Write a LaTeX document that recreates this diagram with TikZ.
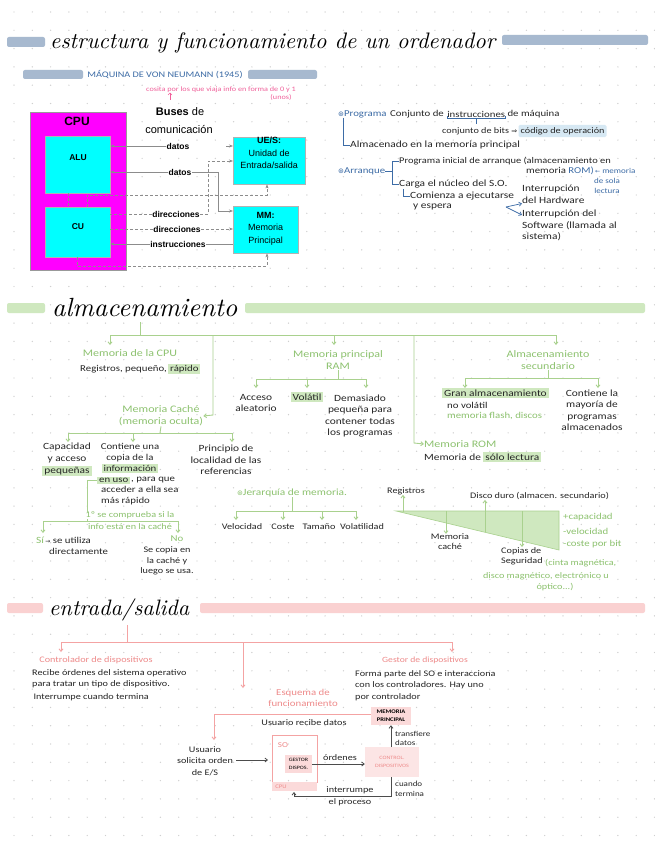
\documentclass[tikz,border=0pt]{standalone}
\usepackage{fontspec}
\newfontfamily\hwf[FakeStretch=1.2]{Carlito}
\newfontfamily\arf{Liberation Sans}
\newfontfamily\djf{DejaVu Sans}
\usetikzlibrary{arrows.meta}
\definecolor{dotc}{HTML}{CFCFCF}
\definecolor{bluebar}{HTML}{A7B9CF}
\definecolor{bluet}{HTML}{3D6CA6}
\definecolor{bluehl}{HTML}{D6E8F3}
\definecolor{gline}{HTML}{A9D18E}
\definecolor{gtext}{HTML}{8DC26F}
\definecolor{ghl}{HTML}{CFE8BF}
\definecolor{gbar}{HTML}{CFE8BF}
\definecolor{pline}{HTML}{F4A3A3}
\definecolor{ptext}{HTML}{EE8A8A}
\definecolor{pbar}{HTML}{FAD1D1}
\definecolor{phl}{HTML}{FBDADA}
\definecolor{pinkann}{HTML}{F0609A}
\definecolor{magb}{HTML}{FF00FF}
\definecolor{cyanb}{HTML}{00FFFF}
\begin{document}
\begin{tikzpicture}[x=1pt,y=-1pt,
  t/.style={font=\hwf\fontsize{9.5}{11.5}\selectfont, inner sep=0pt, align=center, text=black!85},
  ts/.style={t, font=\hwf\fontsize{8.5}{11.5}\selectfont},
  bt/.style={t, text=bluet},
  g/.style={t, text=gtext},
  gb/.style={t, text=gtext, font=\hwf\fontsize{10}{12}\selectfont},
  pt/.style={t, text=ptext, font=\hwf\fontsize{8.5}{11}\selectfont},
  hlg/.style={t, fill=ghl, inner xsep=2pt, inner ysep=1.2pt},
  ar/.style={font=\arf\bfseries\fontsize{8.5}{14}\selectfont, inner sep=0pt, align=center},
  arn/.style={font=\arf\fontsize{9}{13.5}\selectfont, inner sep=0pt, align=center},
  cl/.style={draw=black!45, line width=0.6pt},
  cd/.style={cl, densely dashed},
  ca/.style={-{Stealth[length=4pt,width=3pt]}},
  gl/.style={draw=gline, line width=0.9pt},
  ga/.style={gl, -{Straight Barb[length=2.5pt,width=4pt]}},
  pl/.style={draw=pline, line width=0.9pt},
  pa/.style={pl, -{Straight Barb[length=2.5pt,width=4pt]}},
  bl/.style={draw=bluet, line width=0.7pt},
  ba/.style={bl, -{Straight Barb[length=2.5pt,width=4pt]}},
  dl/.style={draw=black!70, line width=0.8pt, -{Straight Barb[length=2.5pt,width=4pt]}}
]
\useasboundingbox (0,0) rectangle (655,848);
\fill[white] (0,0) rectangle (655,848);
\foreach \i in {0,...,35}{\foreach \j in {0,...,45}{\fill[dotc] (14+18.3*\i,12+18.3*\j) circle (0.7pt);}}

% ================= TITLE =================
\fill[bluebar, rounded corners=2pt] (7,37) rectangle (45,47);
\fill[bluebar, rounded corners=2pt] (502,35) rectangle (648,45);
\node[anchor=base west, inner sep=0pt] (title) at (50,49) {\resizebox{445pt}{!}{\itshape estructura y funcionamiento de un ordenador}};
\fill[bluebar, rounded corners=2pt] (23,70) rectangle (83,79);
\fill[bluebar, rounded corners=2pt] (248,70) rectangle (317,79);
\node[bt, font=\hwf\fontsize{8.5}{10}\selectfont] (vonn) at (165,75) {MÁQUINA DE VON NEUMANN (1945)};

% ================= CPU DIAGRAM =================
\node[draw=black!40, fill=magb, minimum width=96, minimum height=158, anchor=north west, inner sep=0pt] (cpu) at (30,112) {};
\node[font=\arf\bfseries\fontsize{12}{12}\selectfont, inner sep=0pt] (cpul) at (77,121) {CPU};
\node[draw=black!30, fill=cyanb, minimum width=65, minimum height=57, anchor=north west, inner sep=0pt] (alu) at (45,136) {};
\node[ar] (alul) at (78,158) {ALU};
\node[draw=black!30, fill=cyanb, minimum width=65, minimum height=50, anchor=north west, inner sep=0pt] (cu) at (45,207) {};
\node[ar] (cul) at (78,227) {CU};
\draw[cd] (alu.south -| 68,0) -- (cu.north -| 68,0);

\node[draw=black!30, fill=cyanb, minimum width=72, minimum height=47, anchor=north west, inner sep=0pt] (ues) at (233,137) {};
\node[arn, anchor=north] (uesl) at (ues.north) {\textbf{UE/S:}\\[-1pt]Unidad de\\[-1pt]Entrada/salida};
\node[draw=black!30, fill=cyanb, minimum width=65, minimum height=47, anchor=north west, inner sep=0pt] (mm) at (233,206) {};
\node[arn, anchor=north] (mml) at ([yshift=-6pt]mm.north) {\textbf{MM:}\\[-1pt]Memoria\\[-1pt]Principal};

\node[arn, font=\arf\fontsize{11}{11}\selectfont] (buses) at (180,112) {\textbf{Buses} de};
\node[arn, font=\arf\fontsize{11}{11}\selectfont] (comu) at (179,130) {comunicación};
\node[font=\hwf\fontsize{6.8}{7}\selectfont, text=pinkann, inner sep=0pt] (cosita) at (221,90) {cosita por los que viaja info en forma de 0 y 1};
\node[font=\hwf\fontsize{6.8}{7}\selectfont, text=pinkann, inner sep=0pt] (unos) at (281,97) {(unos)};
\draw[draw=pinkann, line width=0.4pt] (170,93) -- (170,100);
\draw[draw=pinkann, line width=0.4pt] (168,95) -- (170,93) -- (172,95);

\node[ar] (datos1) at (178,146) {datos};
\node[ar] (datos2) at (180,172) {datos};
\node[ar] (dir1) at (176,214) {direcciones};
\node[ar] (dir2) at (177,229) {direcciones};
\node[ar] (instr) at (178,244) {instrucciones};

\draw[cl, ca] (datos1.west) -- (datos1.west -| alu.east);
\draw[cl, ca] (226,146) -- (226,146 -| ues.west);
\draw[cl, ca] (datos2.west) -- (datos2.west -| alu.east);
\draw[cl, ca] (datos2.east) -- (218,172) -- (218,211) -- (218,211 -| mm.west);
\draw[cd] (dir1.west) -- (dir1.west -| cu.east);
\draw[cd, ca] (dir1.east) -- (208,214) -- (208,161) -- (208,161 -| ues.west);
\draw[cd] (dir2.west) -- (dir2.west -| cu.east);
\draw[cd, ca] (dir2.east) -- (dir2.east -| mm.west);
\draw[cl] (instr.east) -- (instr.east -| mm.west);
\draw[cl, ca] (instr.west) -- (instr.west -| cu.east);
\draw[cd, ca] (cu.north -| 87,0) -- (87,195) -- (267,195) -- (ues.south -| 267,0);
\draw[cd, ca] (cu.south -| 77,0) -- (77,266) -- (267,266) -- (mm.south -| 267,0);

% ================= TOP RIGHT =================
\node[bt, anchor=west, font=\hwf\fontsize{9}{11}\selectfont] (prog) at (338,114) {{\djf\fontsize{7}{8}\selectfont ⊛}Programa};
\node[t, anchor=west, font=\hwf\fontsize{9}{11}\selectfont] (conjA) at (390,114) {Conjunto de};
\node[t, anchor=west, font=\hwf\fontsize{9}{11}\selectfont] (instrW) at ([xshift=3pt]conjA.east) {instrucciones};
\node[t, anchor=west, font=\hwf\fontsize{9}{11}\selectfont] (conjB) at ([xshift=2pt]instrW.east) {de máquina};
\draw[bl] (instrW.south west) ++(0,-1) -- ++(0,2.5) -| ([yshift=1.5pt]instrW.south east);
\draw[bl] (instrW.south) ++(0,1.5) -- ++(0,5);
\node[t, anchor=west, font=\hwf\fontsize{8.5}{11}\selectfont] (bits) at (442,131) {conjunto de bits {\djf\fontsize{7}{8}\selectfont ⇒}};
\node[t, anchor=west, fill=bluehl, inner xsep=2pt, inner ysep=2.5pt, rounded corners=1.5pt, font=\hwf\fontsize{8.5}{11}\selectfont] (cod) at ([xshift=1pt]bits.east) {código de operación};
\node[t, anchor=west] (alm) at (350,145) {Almacenado en la memoria principal};
\draw[bl] (prog.south west) ++(5,0) |- (alm.west);

\node[bt, anchor=west, font=\hwf\fontsize{9}{11}\selectfont] (arr) at (338,171) {{\djf\fontsize{7}{8}\selectfont ⊛}Arranque};
\node[t, anchor=west, font=\hwf\fontsize{8.7}{11}\selectfont] (pia) at (399,161) {Programa inicial de arranque (almacenamiento en};
\node[t, anchor=west, font=\hwf\fontsize{9}{11}\selectfont] (pib) at (526,171) {memoria \textcolor{bluet}{ROM)}};
\node[bt, anchor=west, font=\hwf\fontsize{7.5}{9}\selectfont] (memo) at ([xshift=1pt]pib.east) {{\djf\fontsize{6}{7}\selectfont ←} memoria};
\node[bt, font=\hwf\fontsize{7.5}{9}\selectfont] (sola) at (607,181) {de sola};
\node[bt, font=\hwf\fontsize{7.5}{9}\selectfont] (lect) at (607,191) {lectura};
\node[t, anchor=west] (carga) at (399,184) {Carga el núcleo del S.O.};
\draw[bl] (arr.east) -- (392,171);
\draw[bl] (pia.west) -- (392,161) -- (392,184) -- (carga.west);
\node[t, anchor=west] (com) at (410,196) {Comienza a ejecutarse};
\node[t, anchor=west] (esp) at (413,207) {y espera};
\draw[bl] (403,189) |- (com.west);
\node[t, anchor=north west, align=left] (int1) at (522,185) {Interrupción\\del Hardware};
\node[t, anchor=north west, align=left] (int2) at (522,210) {Interrupción del\\Software (llamada al\\sistema)};
\coordinate (brk) at (506,207);
\draw[ba] (brk) -- (int1.south west);
\draw[ba] (brk) -- ([yshift=-5pt]int2.north west);

% ================= ALMACENAMIENTO =================
\fill[gbar, rounded corners=2pt] (7,303) rectangle (45,313);
\fill[gbar, rounded corners=2pt] (245,303) rectangle (645,313);
\node[anchor=base west, inner sep=0pt] (almt) at (52,316) {\resizebox{185pt}{!}{\itshape almacenamiento}};

\coordinate (gtop) at (140,322);
\draw[gl] (gtop) -- (140,335);
\draw[gl] (110,335) -- (556,335);
\node[gb] (cpum) at (130,353) {Memoria de la CPU};
\draw[ga] (110,335) -- (110,345);
\node[t, anchor=west, font=\hwf\fontsize{9}{11}\selectfont] (regs) at (80,369) {Registros, pequeño,};
\node[hlg, anchor=west, font=\hwf\fontsize{9}{11}\selectfont] (rap) at ([xshift=1pt]regs.east) {rápido};

\node[gb] (cache) at (161,416) {Memoria Caché\\(memoria oculta)};
\draw[ga] (213,335) -- (213,415) -- (cache.east);
\draw[gl] (cache.south) -- (160,433);
\draw[gl] (68,433) -- (232,433);
\draw[ga] (68,433) -- (68,442);
\draw[ga] (133,433) -- (133,442);
\draw[ga] (232,433) -- (232,442);
\node[t] (capa) at (67,453) {Capacidad\\y acceso};
\node[hlg] (peq) at (67,471) {pequeñas};
\node[t, font=\hwf\fontsize{9}{11}\selectfont] (conti) at (130,453) {Contiene una\\copia de la};
\node[hlg, font=\hwf\fontsize{9}{11}\selectfont] (info) at (130,468.5) {información};
\node[hlg, anchor=west, font=\hwf\fontsize{9}{11}\selectfont] (enuso) at (97,480.5) {en uso};
\node[t, anchor=west, font=\hwf\fontsize{9}{11}\selectfont] (para) at ([xshift=0.5pt]enuso.east) {, para que};
\node[t, anchor=north west, align=left, font=\hwf\fontsize{9}{11}\selectfont] (acced) at (101,486) {acceder a ella sea\\más rápido};
\node[t] (princ) at (226,460) {Principio de\\localidad de las\\referencias};
\draw[gl] (enuso.west) -- (87,480.5) -- (87,521);
\draw[gl] (43,521) -- (178,521);
\draw[ga] (43,521) -- (43,533);
\draw[ga] (178,521) -- (178,533);
\node[g, anchor=south, font=\hwf\fontsize{8.5}{10}\selectfont, fill=white, inner xsep=1pt] (comp1) at (130,519.5) {1º se comprueba si la};
\node[g, anchor=north, font=\hwf\fontsize{8.5}{10}\selectfont] (comp2) at (130,523) {info está en la caché};
\node[g, anchor=west] (si) at (36,540) {Sí};
\node[t, anchor=west, font=\hwf\fontsize{9}{11}\selectfont] (util) at ([xshift=1pt]si.east) {{\djf\fontsize{6}{7}\selectfont →} se utiliza};
\node[t, anchor=west, font=\hwf\fontsize{9}{11}\selectfont] (dire) at (49,551) {directamente};
\node[g, font=\hwf\fontsize{9}{11}\selectfont] (no) at (177,538.5) {No};
\node[t, font=\hwf\fontsize{8.5}{10.8}\selectfont] (copia) at (167,561) {Se copia en\\la caché y\\luego se usa.};

\node[gb] (ram) at (338,360) {Memoria principal\\RAM};
\draw[ga] (334,335) -- (334,345);
\draw[gl] (ram.south) -- (338,379);
\draw[gl] (256,379) -- (366,379);
\draw[ga] (256,379) -- (256,388);
\draw[ga] (307,379) -- (307,388);
\draw[ga] (366,379) -- (366,388);
\node[t] (acc) at (256,403) {Acceso\\aleatorio};
\node[hlg] (vol) at (307,397) {Volátil};
\node[t] (dem) at (360,416) {Demasiado\\pequeña para\\contener todas\\los programas};

\node[gb, anchor=west] (rom) at (424,444) {Memoria ROM};
\draw[ga] (414,335) -- (414,443) -- (rom.west);
\node[t, anchor=west] (romt) at (424,457) {Memoria de};
\node[hlg, anchor=west] (solo) at ([xshift=2pt]romt.east) {sólo lectura};

\node[gb] (sec) at (548,360) {Almacenamiento\\secundario};
\draw[ga] (556,335) -- (556,345);
\draw[gl] (sec.south) -- (548,378);
\draw[gl] (465,378) -- (598,378);
\draw[ga] (465,378) -- (465,388);
\draw[ga] (598,378) -- (598,388);
\node[hlg, anchor=west, font=\hwf\fontsize{9.5}{11}\selectfont] (gran) at (442,393) {Gran almacenamiento};
\node[t, anchor=west, font=\hwf\fontsize{9}{11}\selectfont] (novol) at (447,405) {no volátil};
\node[g, anchor=west, font=\hwf\fontsize{9}{11}\selectfont] (flash) at (447,416) {memoria flash, discos};
\node[t] (contla) at (592,410) {Contiene la\\mayoría de\\programas\\almacenados};

\node[gb, font=\hwf\fontsize{9.5}{11}\selectfont] (jer) at (292,493) {{\djf\fontsize{7}{8}\selectfont ⊛}Jerarquía de memoria.};
\draw[gl] (jer.south) -- (292,511);
\draw[gl] (236,511) -- (356,511);
\draw[ga] (236,511) -- (236,520);
\draw[ga] (283,511) -- (283,520);
\draw[ga] (322,511) -- (322,520);
\draw[ga] (356,511) -- (356,520);
\node[t, font=\hwf\fontsize{8.5}{10}\selectfont] (velo) at (242,527) {Velocidad};
\node[t, font=\hwf\fontsize{8.5}{10}\selectfont] (coste) at (283,527) {Coste};
\node[t, font=\hwf\fontsize{8.5}{10}\selectfont] (tam) at (319,527) {Tamaño};
\node[t, font=\hwf\fontsize{8.5}{10}\selectfont] (volat) at (362,527) {Volatilidad};

\fill[ghl] (396,511) -- (559,511) -- (559,550) -- cycle;
\draw[draw=gline, line width=0.6pt] (396,511) -- (559,511) -- (559,550) -- cycle;
\node[t, font=\hwf\fontsize{8.5}{10}\selectfont] (regt) at (406,491) {Registros};
\node[t, font=\hwf\fontsize{8.5}{10}\selectfont] (mcach) at (450,542) {Memoria\\caché};
\node[t, anchor=west, font=\hwf\fontsize{8.5}{10}\selectfont] (dd) at (470,496) {Disco duro (almacen. secundario)};
\node[t, anchor=north west, align=left, font=\hwf\fontsize{8.5}{10.5}\selectfont] (cop) at (501,547) {Copias de\\Seguridad};
\node[g, anchor=west, font=\hwf\fontsize{8.5}{10}\selectfont] (cinta) at (545,563) {(cinta magnética,};
\node[g, font=\hwf\fontsize{8.5}{10}\selectfont] (disco) at (546,576) {disco magnético, electrónico u};
\node[g, font=\hwf\fontsize{8.5}{10}\selectfont] (opt) at (555,587) {óptico...)};
\draw[ga] (403,512) -- (regt.south -| 403,0);
\draw[ga] (446,511) -- (mcach.north -| 446,0);
\draw[ga] (485,532) -- (dd.south -| 485,0);
\draw[ga] (522,511) -- (cop.north -| 522,0);
\node[g, anchor=west, font=\hwf\fontsize{9}{10}\selectfont] (mcap) at (563,517) {+capacidad};
\node[g, anchor=west, font=\hwf\fontsize{9}{10}\selectfont] (mvel) at (563,531) {-velocidad};
\node[g, anchor=west, font=\hwf\fontsize{9}{10}\selectfont] (mcos) at (563,544) {-coste por bit};

% ================= ENTRADA/SALIDA =================
\fill[pbar, rounded corners=2pt] (7,603) rectangle (43,613);
\fill[pbar, rounded corners=2pt] (200,603) rectangle (645,613);
\node[anchor=base west, inner sep=0pt] (est) at (49,615) {\resizebox{140pt}{!}{\itshape entrada/salida}};
\draw[pl] (127,625) -- (127,642);
\draw[pl] (61,642) -- (452,642);
\node[pt] (ctrl) at (96,660) {Controlador de dispositivos};
\draw[pa] (61,642) -- (61,652);
\node[ts, anchor=north west, align=left] (ctrlt) at (32,669) {Recibe órdenes del sistema operativo\\para tratar un tipo de dispositivo.\\[1pt]\,Interrumpe cuando termina};
\node[pt, font=\hwf\fontsize{8}{11}\selectfont] (gest) at (425,660) {Gestor de dispositivos};
\draw[pa] (452,642) -- (452,652);
\node[ts, anchor=north west, align=left] (gestt) at (355,670) {Forma parte del SO e interacciona\\con los controladores. Hay uno\\por controlador};
\node[pt, font=\hwf\fontsize{9}{11}\selectfont] (esq) at (303,698) {Esquema de\\funcionamiento};
\draw[pa] (243,642) -- (243,688);

\node[fill=phl, minimum width=40, minimum height=18, inner sep=0pt, align=center, font=\hwf\bfseries\fontsize{5.5}{8}\selectfont] (mem) at (391,716) {MEMORIA\\PRINCIPAL};
\draw[pa] (mem.west |- 0,714) -- (214,714) -- (214,740);
\node[ts] (recibe) at (304,723) {Usuario recibe datos};
\node[ts] (usr) at (205,761) {Usuario\\solicita orden\\de E/S};
\draw[pl] (272,735) rectangle (317,782);
\fill[phl] (272,782) rectangle (317,791);
\node[pt, font=\hwf\fontsize{7.5}{9}\selectfont] (so) at (283,745) {SO};
\node[pt, font=\hwf\fontsize{5.5}{7}\selectfont] (cpup) at (281,787) {CPU};
\node[fill=phl, minimum width=27, minimum height=18, inner sep=0pt, align=center, font=\hwf\fontsize{5}{8}\selectfont] (gdis) at (298.5,764) {GESTOR\\DISPOS.};
\node[fill=phl!70, minimum width=54, minimum height=30, inner sep=0pt, align=center, text=ptext, font=\hwf\fontsize{5}{8}\selectfont] (cdis) at (392,762) {CONTROL.\\DISPOSITIVOS};
\draw[dl] (usr.east |- 0,760) ++(3,0) -- (268,760);
\draw[dl] (gdis.east) -- (cdis.west |- gdis.east);
\node[ts] (ord) at (340,758) {órdenes};
\draw[dl] (cdis.north -| 391,0) -- (mem.south -| 391,0);
\node[ts, anchor=west, align=left, font=\hwf\fontsize{7.5}{9}\selectfont] (transf) at (395,738) {transfiere\\datos};
\draw[dl] (cdis.south -| 391,0) -- (391,796) -- (294,796) -- (294,792);
\node[ts, anchor=south] (interr) at (350,794) {interrumpe};
\node[ts, anchor=north] (elproc) at (350,798) {el proceso};
\node[ts, anchor=west, align=left, font=\hwf\fontsize{7.5}{9.5}\selectfont] (cuando) at (395,789) {cuando\\termina};
\end{tikzpicture}
\end{document}
